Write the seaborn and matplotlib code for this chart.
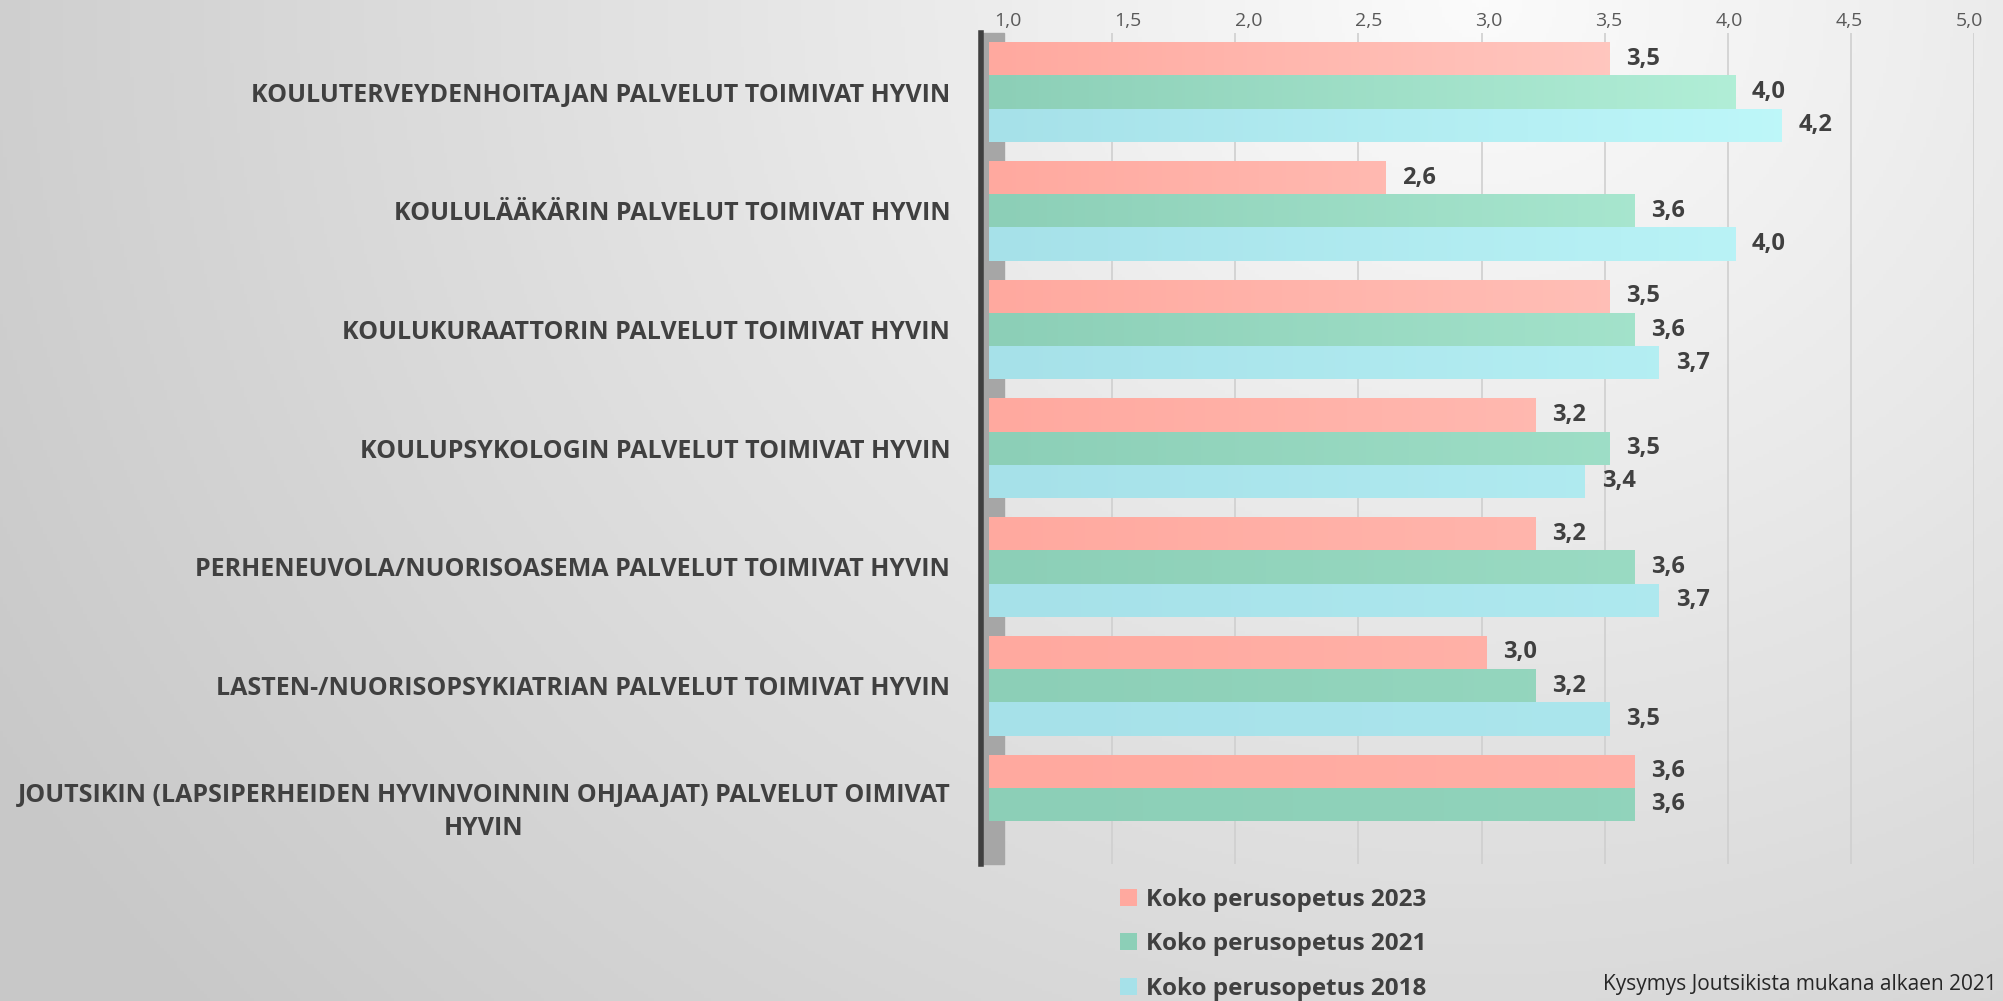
import matplotlib.pyplot as plt
import numpy as np
import pandas as pd
import seaborn as sns
from matplotlib.colors import LinearSegmentedColormap
from matplotlib.patches import Patch, Rectangle
from matplotlib.transforms import offset_copy

categories = [
    "KOULUTERVEYDENHOITAJAN PALVELUT TOIMIVAT HYVIN",
    "KOULULÄÄKÄRIN PALVELUT TOIMIVAT HYVIN",
    "KOULUKURAATTORIN PALVELUT TOIMIVAT HYVIN",
    "KOULUPSYKOLOGIN PALVELUT TOIMIVAT HYVIN",
    "PERHENEUVOLA/NUORISOASEMA PALVELUT TOIMIVAT HYVIN",
    "LASTEN-/NUORISOPSYKIATRIAN PALVELUT TOIMIVAT HYVIN",
    "JOUTSIKIN (LAPSIPERHEIDEN HYVINVOINNIN OHJAAJAT) PALVELUT OIMIVAT\nHYVIN",
]
series = ["Koko perusopetus 2023", "Koko perusopetus 2021", "Koko perusopetus 2018"]
values_2023 = [3.52, 2.61, 3.52, 3.22, 3.22, 3.02, 3.62]
values_2021 = [4.03, 3.62, 3.62, 3.52, 3.62, 3.22, 3.62]
values_2018 = [4.22, 4.03, 3.72, 3.42, 3.72, 3.52, np.nan]
x_ticks = [1.0, 1.5, 2.0, 2.5, 3.0, 3.5, 4.0, 4.5, 5.0]
note = "Kysymys Joutsikista mukana alkaen 2021"

colors = ["#FFA99F", "#8CCFB7", "#A6E1E9"]
light = ["#FFD8D2", "#BFFAE3", "#C6FFFF"]
text_col = "#404040"

df = pd.DataFrame({
    "category": categories * 3,
    "series": np.repeat(series, len(categories)),
    "value": values_2023 + values_2021 + values_2018,
})

sns.set_style("white")
plt.rcParams["font.family"] = ["Open Sans", "DejaVu Sans"]

fig = plt.figure(figsize=(20.03, 10.01), dpi=100)

# grey radial background
bg = fig.add_axes([0, 0, 1, 1], zorder=-10)
yy, xx = np.mgrid[0:1:300j, 0:1:600j]
d = np.sqrt(((xx - 0.74) * 1.8) ** 2 + (yy - 0.0) ** 2)
bg.imshow(np.clip(d / 1.55, 0, 1), cmap=LinearSegmentedColormap.from_list("bg", ["#FBFBFB", "#C8C8C8"]),
          extent=[0, 1, 1, 0], aspect="auto")
bg.set_axis_off()

ax = fig.add_axes([0.4938, 0.137, 0.4918, 0.8304])
ax.patch.set_alpha(0)

sns.barplot(data=df, x="value", y="category", hue="series", orient="h",
            palette=colors, saturation=1, width=0.84, ax=ax, legend=False,
            edgecolor="none", zorder=3)

ax.set_xlim(1, 5)
ax.set_ylim(6.5, -0.5)

# gradient fill clipped to each bar
for i, cont in enumerate(ax.containers):
    cmap = LinearSegmentedColormap.from_list(f"g{i}", [colors[i], light[i]])
    for bar in cont:
        if not np.isfinite(bar.get_width()):
            continue
        y0 = bar.get_y()
        fade = 1 - (y0 + 0.5) / 7.5
        grad = np.linspace(0, 1, 256)[None, :] * fade
        im = ax.imshow(grad, cmap=cmap, vmin=0, vmax=1, aspect="auto",
                       extent=[1, 5, y0 + bar.get_height(), y0], zorder=3.5)
        im.set_clip_path(bar)
    ax.bar_label(cont, labels=["" if not np.isfinite(v) else f"{v:.1f}".replace(".", ",")
                               for v in cont.datavalues],
                 padding=12, fontsize=17, fontweight="bold", color=text_col, zorder=5)
ax.set_xlim(1, 5)
ax.set_ylim(6.5, -0.5)

# grid and left wall
for t in x_ticks[1:]:
    ax.axvline(t, color="#CFCFCF", lw=1.2, zorder=1)
ax.add_patch(Rectangle((0.975, 0), 0.085, 1, transform=ax.get_xaxis_transform(),
                       color="#A6A6A6", zorder=2, clip_on=False))
for s in ["top", "right", "bottom"]:
    ax.spines[s].set_visible(False)
ax.spines["left"].set_color("#404040")
ax.spines["left"].set_linewidth(4)
ax.spines["left"].set_position(("outward", 6))

ax.xaxis.tick_top()
ax.set_xticks(x_ticks)
ax.set_xticklabels([f"{t:.1f}".replace(".", ",") for t in x_ticks])
ax.tick_params(axis="x", length=0, pad=2, labelsize=14, labelcolor="#595959")
ax.tick_params(axis="y", length=0, pad=22, labelsize=18, labelcolor=text_col)
for lab in ax.get_yticklabels():
    lab.set_fontweight("bold")
    lab.set_multialignment("center")
    lab.set_linespacing(1.45)
# top labels sit on the back plane of the 3D chart, shifted a little
for lab, t in zip(ax.get_xticklabels(), x_ticks):
    lab.set_transform(offset_copy(lab.get_transform(), fig=fig,
                                  x=(19 - (t - 1) * 6) * 0.72, units="points"))
ax.set_xlabel("")
ax.set_ylabel("")

handles = [Patch(facecolor=c, edgecolor="none") for c in colors]
fig.legend(handles, series, loc="upper left", bbox_to_anchor=(0.548, 0.135),
           frameon=False, handlelength=0.7, handleheight=0.7,
           handletextpad=0.4, labelspacing=0.85, labelcolor=text_col,
           prop={"weight": "bold", "size": 17.5})

fig.text(0.997, 0.016, note, ha="right", va="center", fontsize=15, color="#262626")

fig.savefig("out.png", dpi=100)
